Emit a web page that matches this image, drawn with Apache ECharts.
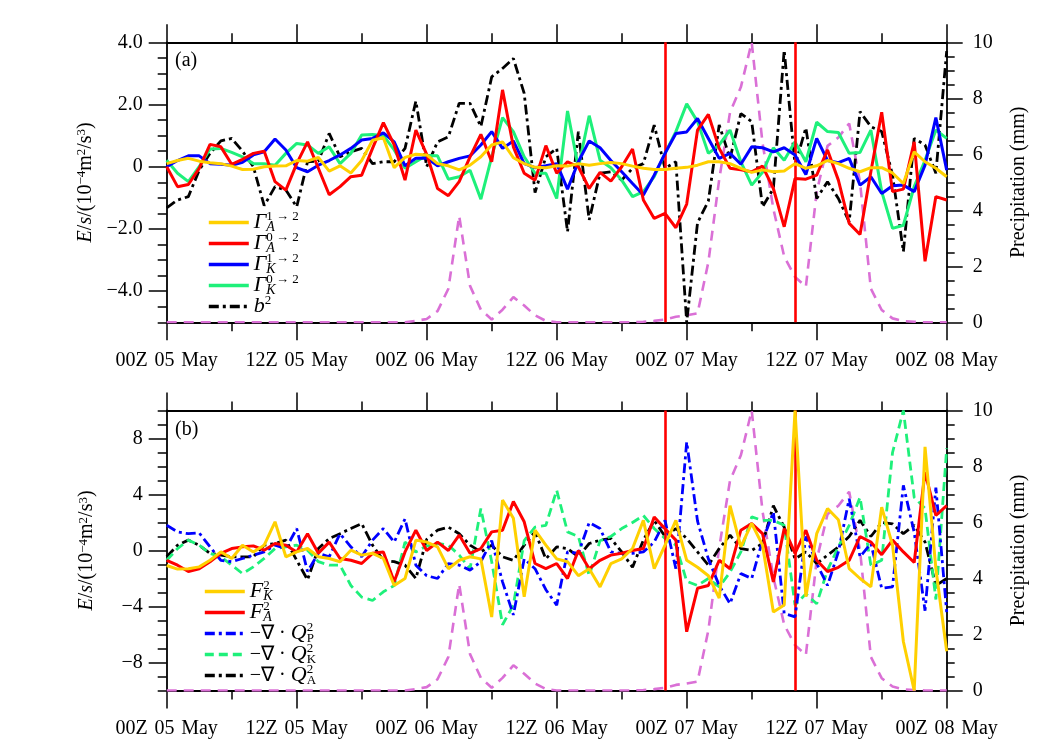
<!DOCTYPE html>
<html><head><meta charset="utf-8">
<script src="https://cdn.jsdelivr.net/npm/echarts@6/dist/echarts.min.js"></script>
<style>html,body{margin:0;padding:0;background:#fff}#c{width:1059px;height:746px}</style>
</head><body><div id="c"></div>
<script>
// ---------- data ----------
const hours = Array.from({length: 73}, (_, i) => i); // 00Z 05 May .. 00Z 08 May, hourly
const xTickValues = [0, 12, 24, 36, 48, 60, 72];
const xTickLabels = ['00Z 05 May', '12Z 05 May', '00Z 06 May', '12Z 06 May', '00Z 07 May', '12Z 07 May', '00Z 08 May'];
const yTickValuesA = [-4, -2, 0, 2, 4];
const yTickLabelsA = ['\u22124.0', '\u22122.0', '0', '2.0', '4.0'];
const yTickValuesB = [-8, -4, 0, 4, 8];
const yTickLabelsB = ['\u22128', '\u22124', '0', '4', '8'];
const eventHours = [46, 58];

const precip = [0,0,0,0,0,0,0,0,0,0,0,0,
  0,0,0,0,0,0,0,0,0,0,0,0.05,
  0.12,0.4,1.2,3.8,1.3,0.45,0.1,0.45,0.9,0.6,0.25,0.05,
  0,0,0,0,0,0,0,0,0.02,0.05,0.1,0.2,
  0.25,0.32,2.15,5.1,7.5,8.4,10,6.4,4.05,2.35,1.62,1.27,
  4.66,6.3,6.6,7.1,5.0,1.2,0.44,0.14,0.04,0.02,0,0,
  0];

// panel (a)
const gammaA12 = [0.1,0.2,0.27,0.18,0.13,0.1,0.02,-0.09,-0.08,0,0.02,0.03,
  0.2,0.18,0.3,-0.14,0.03,-0.2,0.2,0.85,0.93,-0.03,0.3,0.4,
  0.38,0.1,0.03,-0.1,0.05,0.32,0.7,0.8,0.29,0.1,-0.02,-0.03,
  0.03,0.02,0.1,0.05,0.1,0.14,0.1,0.02,-0.05,-0.09,-0.09,-0.05,
  -0.02,0.05,0.16,0.16,0.1,-0.05,-0.18,-0.1,-0.16,-0.14,0.1,-0.05,
  0.03,0.2,0.1,-0.05,-0.16,-0.03,-0.03,-0.2,-0.54,0.48,0.16,-0.05,
  -0.32];
const gammaA02 = [0,-0.64,-0.57,-0.05,0.72,0.64,0.08,0.24,0.43,0.5,-0.48,-0.75,
  0.1,0.8,-0.05,-0.9,-0.64,-0.32,-0.27,0.59,1.42,0.7,-0.43,1.18,
  0.4,-0.7,-0.93,-0.48,0.32,1.04,0.16,2.47,0.64,-0.21,-0.43,0.68,
  -0.21,0.16,0,-0.7,-0.18,-0.46,0,0.57,-1.07,-1.66,-1.5,-1.96,
  -1.2,1.18,1.68,0.59,-0.05,-0.1,-0.16,0.02,-0.7,-1.93,-0.38,-0.4,
  -0.27,0.54,-0.43,-1.82,-2.18,-0.16,1.75,-0.8,-0.72,0.8,-3.04,-0.96,
  -1.07];
const gammaK12 = [0,0.2,0.35,0.35,0.1,0.08,0.05,0.14,0.38,0.48,0.89,0.54,
  -0.03,-0.16,0.05,0.2,0.38,0.59,0.86,0.91,1.09,0.8,0.03,0.27,
  0.28,0.03,0.16,0.27,0.35,0.7,1.13,0.59,0.83,0.1,-0.03,0.03,
  0.1,-0.72,0.16,0.83,0.61,0.2,-0.16,-0.54,-0.91,-0.27,0.43,1.07,
  1.12,1.55,0.91,0.27,0.43,0.08,0.64,0.61,0.48,0.61,0.38,-0.25,
  0.91,0.2,0.13,0.27,-0.59,-0.32,-0.86,-0.61,-0.59,-0.8,0.05,1.58,
  -0.11];
const gammaK02 = [0.21,-0.21,-0.48,0,0.57,0.59,0.46,0.32,0.1,0.1,0.05,0.43,
  0.75,0.7,0.43,0.64,0.1,0.43,1.02,1.04,1.0,0.54,-0.05,0.16,
  0.36,0.35,-0.4,-0.32,-0.11,-1.04,0.32,1.58,1.13,0.32,-0.21,-0.21,
  -1.02,1.79,-0.03,1.64,0.21,-0.03,-0.43,-0.96,-0.8,-0.32,0.43,1.13,
  2.02,1.45,0.43,0.7,1.18,0.16,-0.59,-0.18,0.61,0.21,0.8,0.16,
  1.43,1.13,1.1,0.43,0.46,1.18,-0.8,-1.98,-1.88,-0.64,0.21,1.18,
  0.91];
const b2 = [-1.32,-1.07,-0.96,-0.11,0.43,0.83,0.91,0.5,0,-1.25,-0.64,-0.75,
  -1.29,0.16,0.18,1.07,0.32,0.48,0.59,0.1,0.16,0.16,0.59,2.11,
  0,0.8,0.96,2.04,2.04,1.29,2.89,3.16,3.48,2.36,-0.83,0.32,
  0.59,-2.09,1.13,-1.71,-0.21,-0.16,-0.43,-0.05,0.1,1.34,-0.05,0.16,
  -5,-1.8,-1.1,1.34,0.27,1.71,1.45,-1.29,-0.7,3.75,0.05,1.25,
  -1.02,-0.48,-1.02,-1.77,1.77,1.29,1.13,-0.27,-2.73,0.91,0.7,-0.21,
  3.72];

// panel (b)
const FK2 = [-1.07,-1.33,-1.3,-1.17,-0.7,-0.1,-0.57,0.38,-0.1,0.38,2.05,-0.45,
  -0.1,0.14,-0.45,-0.57,-0.8,0.02,-0.33,-0.2,-0.57,-2.5,-2.0,0.74,
  0.6,0.26,-1.3,-0.7,-0.45,-0.6,-4.75,3.6,2.3,-3.3,1.45,0.38,
  -0.6,-0.8,-1.8,-1.3,-2.6,-0.93,-0.6,0.14,2.15,-1.3,0.38,2.15,
  -0.7,-1.2,-1.8,-3.4,3.2,0.26,1.93,0.38,-4.4,-3.9,10,-3.3,
  1.2,3.0,2.2,-1.3,-2.0,-2.6,3.1,0.38,-6.5,-10,7.4,-1.3,
  -7.2];
const FA2 = [-0.7,-1.05,-1.5,-1.3,-0.8,-0.2,0.14,0.26,0.33,0.02,0.5,0.38,
  -0.1,1.2,-0.2,0.6,-0.57,-0.7,-0.93,-0.2,-0.1,-2.24,-0.1,1.45,
  0,0.6,0,1.1,-0.2,0.14,1.33,1.45,3.5,2.05,-0.93,-1.3,
  -0.93,-2.0,0,-1.3,-0.7,-0.33,-0.2,0,0.14,2.4,1.55,0.74,
  -5.8,-2.7,-2.5,-0.7,-1.3,1.45,1.93,1.2,-2.24,1.57,-0.2,1.45,
  -0.7,-1.5,-1.2,-0.7,1.0,0.6,-0.3,0.74,-0.1,-0.86,5.6,2.5,
  3.2];
const QP2 = [1.8,1.33,1.2,1.26,0.26,-0.7,-0.8,-0.57,-0.33,-0.1,0.38,0.14,
  1.57,-1.5,-0.2,-0.45,1.2,0.26,-0.45,0.74,1.57,0.6,2.26,-1.05,
  -1.8,-2.0,-0.93,-1.05,-1.4,-0.8,0.7,-2.24,-4.6,-0.6,-1.3,-2.8,
  -3.9,-0.1,-0.2,2.0,1.57,-0.1,-0.2,-0.2,-0.1,0.6,2.15,-1.3,
  7.75,2.1,-0.6,-2.5,-3.8,-1.65,-2.0,0.7,2.74,-4.5,-4.74,1.0,
  -0.93,-2.5,-0.1,3.7,-0.45,0.5,-2.7,-2.6,4.65,1.3,-4.3,4.5,
  -4.4];
const QK2 = [-0.7,0.14,0.74,0.38,-0.2,-0.45,-1.05,-1.65,-1.17,-0.57,0.14,0.26,
  0.38,0.02,-0.8,-1.05,-1.05,-2.5,-3.33,-3.57,-2.95,-2.5,0.6,-0.1,
  0.32,0.5,0.38,-0.33,-1.3,3.0,-0.8,-5.3,-3.9,0.7,1.67,1.8,
  4.3,1.33,1.0,-1.8,0.7,1.0,1.57,2.0,2.5,1.57,0.86,0.38,
  -2.2,-2.5,-2.0,-2.6,-1.55,-0.1,2.4,2.15,2.15,1.8,-3.9,-3.1,
  -3.8,-1.4,0.26,1.8,3.8,-1.05,-0.7,7.0,10,3.8,3.0,-3.5,
  7.3];
const QA2 = [-0.45,0.38,0.74,0.38,-0.2,-0.33,-0.45,-0.45,-0.45,0.38,0.5,0.74,
  -0.7,-2.1,0.14,0.86,1.2,1.57,1.93,0.38,-0.7,-0.8,-1.05,-2.0,
  0.8,1.45,1.67,1.2,0.38,-0.1,0.38,-0.45,-0.7,0.38,1.33,-0.6,
  0.26,0.14,-0.45,0.5,0.74,0.86,-0.1,-1.2,0.74,2.15,1.0,1.57,
  0.86,-0.1,-1.05,0.14,1.1,0.14,0,0.5,3.2,1.67,-0.6,-0.1,
  -0.93,-0.33,0.26,1.0,2.15,1.0,2.0,1.9,1.2,1.8,0.6,-2.5,
  -2.0];

const namesA = ['\u0393A(1\u21922)', '\u0393A(0\u21922)', '\u0393K(1\u21922)', '\u0393K(0\u21922)', 'b\u00b2'];
const namesB = ['FK\u00b2', 'FA\u00b2', '\u2212\u2207\u00b7QP\u00b2', '\u2212\u2207\u00b7QK\u00b2', '\u2212\u2207\u00b7QA\u00b2'];
const legendText = {};
legendText[namesA[0]] = '{g|\u0393}{sb|A}{sp|1 \u2192 2}';
legendText[namesA[1]] = '{g|\u0393}{sb|A}{sp|0 \u2192 2}';
legendText[namesA[2]] = '{g|\u0393}{sb|K}{sp|1 \u2192 2}';
legendText[namesA[3]] = '{g|\u0393}{sb|K}{sp|0 \u2192 2}';
legendText[namesA[4]] = '{g|b}{sp|2}';
legendText[namesB[0]] = '{g|F}{sb|K}{sp|2}';
legendText[namesB[1]] = '{g|F}{sb|A}{sp|2}';
legendText[namesB[2]] = '{n|\u2212\u2207 \u00b7 }{g|Q}{sbr|P}{sp|2}';
legendText[namesB[3]] = '{n|\u2212\u2207 \u00b7 }{g|Q}{sbr|K}{sp|2}';
legendText[namesB[4]] = '{n|\u2212\u2207 \u00b7 }{g|Q}{sbr|A}{sp|2}';

// ---------- styling ----------
const FONT = '"Liberation Serif","Times New Roman",Times,serif';
const BLACK = '#000';
const C_YEL = '#FFD000', C_RED = '#FF0000', C_BLUE = '#0000FF', C_GRN = '#1EF07A', C_PREC = '#DA70D6';
const DASHDOT = [10, 4, 3, 4];
const DASH = [9, 5];

const GL = 166.7, GR = 1059 - 946.7;
const grids = [
  {left: GL, right: GR, top: 42.3, height: 280, outerBoundsMode: 'none'},
  {left: GL, right: GR, top: 410.5, height: 280, outerBoundsMode: 'none'},
  {left: GL, right: GR, top: 42.3, height: 280, outerBoundsMode: 'none'},
  {left: GL, right: GR, top: 410.5, height: 280, outerBoundsMode: 'none'}
];

const axLine = {show: true, onZero: false, lineStyle: {color: BLACK, width: 1.8}};
const tickLS = {color: BLACK, width: 1.5};
const lblBase = {color: BLACK, fontFamily: FONT, fontSize: 20};

function xAx(gi, pos, labels) {
  return {
    type: 'value', gridIndex: gi, position: pos, min: 0, max: 72, interval: 12,
    axisLine: axLine,
    axisTick: {show: true, inside: false, length: 18, lineStyle: tickLS},
    minorTick: {show: true, splitNumber: 2, length: 9, lineStyle: tickLS},
    splitLine: {show: false}, minorSplitLine: {show: false},
    axisLabel: labels ? Object.assign({show: true, margin: 28, showMinLabel: true, showMaxLabel: true,
      formatter: v => { const i = xTickValues.indexOf(v); return i < 0 ? '' : xTickLabels[i].replace(/ /g, '\u2004'); }}, lblBase)
      : {show: false}
  };
}
function xHidden(gi) {
  return {type: 'value', gridIndex: gi, min: 0, max: 72, show: false};
}
const nameRich = {
  i: {fontFamily: FONT, fontSize: 20, fontStyle: 'italic', lineHeight: 20, color: BLACK},
  n: {fontFamily: FONT, fontSize: 20, lineHeight: 20, color: BLACK},
  sp: {fontFamily: FONT, fontSize: 13, lineHeight: 10, verticalAlign: 'top', color: BLACK}
};
const yName = '{i|E}{n|/}{i|s}{n|/(10}{sp|\u22124}{n|m}{sp|2}{n|/s}{sp|3}{n|)}';

function yLeft(gi, min, max, step, vals, labs) {
  return {
    type: 'value', gridIndex: gi, position: 'left', min, max, interval: step,
    axisLine: axLine,
    axisTick: {show: true, inside: false, length: 9, lineStyle: tickLS},
    splitLine: {show: false},
    axisLabel: Object.assign({show: true, margin: 24,
      formatter: v => { const i = vals.indexOf(v); return i < 0 ? '' : labs[i]; }}, lblBase),
    name: yName, nameLocation: 'middle', nameRotate: 90, nameGap: 70,
    nameTextStyle: {rich: nameRich, fontFamily: FONT, fontSize: 20, color: BLACK}
  };
}
function yMajor(gi, min, max, vals) {
  return {
    type: 'value', gridIndex: gi, position: 'left', min, max,
    axisLine: {show: false, onZero: false},
    axisTick: {show: true, inside: false, length: 18, lineStyle: tickLS, customValues: vals},
    axisLabel: {show: false}, splitLine: {show: false}
  };
}
function yRight(gi) {
  return {
    type: 'value', gridIndex: gi, position: 'right', min: 0, max: 10, interval: 2,
    axisLine: axLine,
    axisTick: {show: true, inside: false, length: 16, lineStyle: tickLS},
    minorTick: {show: true, splitNumber: 4, length: 8, lineStyle: tickLS},
    splitLine: {show: false}, minorSplitLine: {show: false},
    axisLabel: Object.assign({show: true, margin: 26}, lblBase),
    name: 'Precipitation (mm)', nameLocation: 'middle', nameRotate: 90, nameGap: 62,
    nameTextStyle: {fontFamily: FONT, fontSize: 20, color: BLACK}
  };
}

function line(name, data, xi, yi, color, type, width, z) {
  return {
    type: 'line', name, xAxisIndex: xi, yAxisIndex: yi,
    data: hours.map((h, i) => [h, data[i]]),
    symbol: 'none', symbolSize: 0, showSymbol: false, clip: true, z,
    lineStyle: {color, width, type}, itemStyle: {color},
    emphasis: {disabled: true}, animation: false
  };
}
function precipSeries(name, xi, yi) {
  const s = line(name, precip, xi, yi, C_PREC, [10, 7], 2.6, 1);
  s.markLine = {
    silent: true, symbol: ['none', 'none'], label: {show: false},
    lineStyle: {color: C_RED, width: 2.6, type: 'solid'},
    data: eventHours.map(h => ({xAxis: h})), animation: false
  };
  return s;
}

const legRich = {
  g: {fontFamily: FONT, fontSize: 22, fontStyle: 'italic', lineHeight: 24, color: BLACK},
  n: {fontFamily: FONT, fontSize: 20, lineHeight: 24, color: BLACK},
  sp: {fontFamily: FONT, fontSize: 13, lineHeight: 10, verticalAlign: 'top', color: BLACK},
  sb: {fontFamily: FONT, fontSize: 14, fontStyle: 'italic', lineHeight: 10, verticalAlign: 'bottom', width: 0, color: BLACK},
  sbr: {fontFamily: FONT, fontSize: 13, lineHeight: 10, verticalAlign: 'bottom', width: 0, color: BLACK}
};
function legend(names, left, top) {
  return {
    show: true, orient: 'vertical', left, top, itemGap: -3, itemWidth: 40, itemHeight: 14,
    data: names, selectedMode: false, padding: 0,
    itemStyle: {opacity: 0},
    lineStyle: {width: 3.6, color: 'inherit', type: 'inherit'},
    formatter: n => legendText[n],
    textStyle: {rich: legRich, fontFamily: FONT, fontSize: 20, color: BLACK}
  };
}

const option = {
  animation: false,
  backgroundColor: '#fff',
  grid: grids,
  xAxis: [xAx(0, 'bottom', true), xAx(0, 'top', false), xAx(1, 'bottom', true), xAx(1, 'top', false), xHidden(2), xHidden(3)],
  yAxis: [
    yLeft(0, -5, 4, 0.5, yTickValuesA, yTickLabelsA), yRight(0),
    yLeft(1, -10, 10, 1, yTickValuesB, yTickLabelsB), yRight(1),
    yMajor(2, -5, 4, yTickValuesA), yMajor(3, -10, 10, yTickValuesB)
  ],
  legend: [legend(namesA, 207, 210.5), legend(namesB, 203, 579.5)],
  graphic: [
    {type: 'text', left: 175, top: 51, style: {text: '(a)', font: '20px ' + FONT, fill: BLACK}},
    {type: 'text', left: 175, top: 420, style: {text: '(b)', font: '20px ' + FONT, fill: BLACK}}
  ],
  series: [
    precipSeries('Precipitation (a)', 0, 1),
    line(namesA[4], b2, 0, 0, BLACK, DASHDOT, 2.8, 3),
    line(namesA[3], gammaK02, 0, 0, C_GRN, 'solid', 3, 4),
    line(namesA[2], gammaK12, 0, 0, C_BLUE, 'solid', 3, 5),
    line(namesA[1], gammaA02, 0, 0, C_RED, 'solid', 3, 6),
    line(namesA[0], gammaA12, 0, 0, C_YEL, 'solid', 3, 7),
    precipSeries('Precipitation (b)', 2, 3),
    line(namesB[4], QA2, 2, 2, BLACK, DASHDOT, 2.8, 3),
    line(namesB[3], QK2, 2, 2, C_GRN, DASH, 2.8, 4),
    line(namesB[2], QP2, 2, 2, C_BLUE, DASHDOT, 2.8, 5),
    line(namesB[1], FA2, 2, 2, C_RED, 'solid', 3, 6),
    line(namesB[0], FK2, 2, 2, C_YEL, 'solid', 3, 7)
  ]
};
const chart = echarts.init(document.getElementById('c'), null, {renderer: 'canvas'});
chart.setOption(option);
</script></body></html>
